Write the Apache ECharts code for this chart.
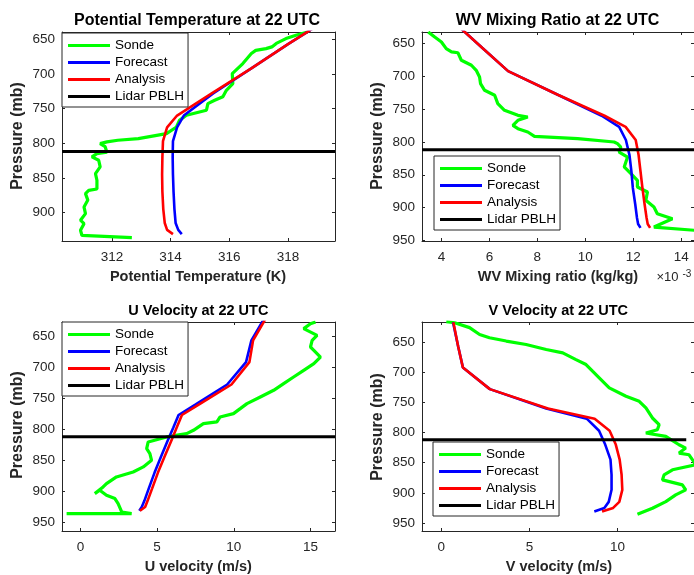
<!DOCTYPE html>
<html>
<head>
<meta charset="utf-8">
<script src="https://cdn.jsdelivr.net/npm/echarts@6/dist/echarts.min.js"></script>
<style>
  html, body { margin: 0; padding: 0; background: #fff; }
  #chart { width: 694px; height: 575px; }
</style>
</head>
<body>
<div id="chart"></div>
<script>
// Model pressure levels (mb) shared by forecast and analysis profiles
const modelP = [617, 657, 692, 728, 760, 777, 797, 820, 845, 870, 895, 915, 925, 931];
const pblhP = 812;

// Potential temperature (K)
const thetaForecast = [319.5, 318.0, 316.75, 315.45, 314.45, 314.22, 314.08, 314.07, 314.08, 314.1, 314.13, 314.17, 314.26, 314.38];
const thetaAnalysis = [319.5, 318.0, 316.75, 315.4, 314.22, 313.88, 313.74, 313.72, 313.71, 313.72, 313.75, 313.8, 313.88, 314.08];
const thetaSondeP = [936, 933, 925.5, 916, 911, 901.5, 892, 882, 872.6, 868, 866, 853.4, 843.8, 834, 824.5, 819.7, 815, 813, 805, 800.5, 798, 795.7, 793.4, 786, 776.5, 767, 759.6, 752.4, 742.8, 738, 733, 723.6, 714, 699.5, 685, 670.6, 666, 663.5, 661, 656, 649, 644.2, 639.4];
const thetaSonde = [312.68, 310.98, 310.93, 311.05, 310.93, 311.1, 311.05, 311.18, 311.1, 311.21, 311.49, 311.49, 311.44, 311.6, 311.55, 311.32, 311.49, 311.83, 311.77, 311.6, 311.83, 312.2, 312.9, 313.86, 314.2, 314.3, 314.54, 315.22, 315.27, 315.5, 315.78, 315.9, 316.12, 316.1, 316.46, 316.75, 316.9, 317.25, 317.45, 317.6, 317.93, 318.27, 318.67];

// Water vapour mixing ratio (units of 1e-3 kg/kg)
const wvForecast = [4.51, 5.72, 6.78, 8.85, 10.68, 11.41, 11.69, 11.84, 11.92, 11.98, 12.08, 12.15, 12.2, 12.3];
const wvAnalysis = [4.51, 5.72, 6.78, 8.85, 10.8, 11.68, 12.1, 12.22, 12.3, 12.38, 12.47, 12.55, 12.6, 12.7];
const wvSondeP = [632.2, 640, 647.5, 657.6, 662.7, 664, 675.4, 683, 690.7, 700.9, 711, 721.2, 728.8, 741.5, 751.7, 759.4, 762, 767, 774.6, 779.7, 784.8, 791.4, 795, 800, 802.6, 807.7, 815.3, 823, 838, 848.4, 858.5, 868.7, 876.3, 889, 899.2, 909.4, 917, 929.7, 934.8];
const wvSonde = [3.45, 3.72, 4.0, 4.2, 4.42, 4.69, 4.83, 5.25, 5.45, 5.59, 5.63, 5.8, 6.22, 6.35, 6.63, 7.19, 7.6, 7.19, 6.98, 7.19, 7.6, 7.88, 9.68, 11.2, 11.34, 11.48, 11.41, 11.76, 11.62, 11.9, 12.17, 12.17, 12.59, 12.52, 12.86, 13.0, 13.63, 12.86, 14.6];

// U velocity (m/s)
const uForecast = [12.1, 11.15, 10.8, 9.57, 7.52, 6.4, 6.06, 5.66, 5.24, 4.83, 4.46, 4.17, 4.0, 3.84];
const uAnalysis = [12.2, 11.26, 11.02, 9.85, 7.74, 6.62, 6.28, 5.9, 5.47, 5.05, 4.68, 4.38, 4.22, 3.88];
const uSondeP = [935.5, 935.5, 933, 930.2, 919.5, 911.4, 906, 898, 903.4, 892.7, 887.3, 876.6, 868.6, 860.5, 849.8, 839.1, 831, 820.3, 812.3, 807, 801.6, 790.9, 788.2, 780.2, 774.8, 766.8, 758.7, 748, 737.3, 726.6, 715.9, 705.2, 694.5, 683.8, 673, 667.7, 657, 649, 638.2, 630.2, 627.5];
const uSonde = [-0.9, 3.34, 2.7, 2.57, 2.46, 2.25, 1.7, 1.26, 0.94, 1.48, 1.7, 2.35, 3.44, 4.1, 4.64, 4.53, 4.32, 4.42, 5.62, 6.93, 7.37, 8.02, 8.9, 9.11, 9.98, 10.42, 10.86, 11.73, 12.6, 13.25, 13.9, 14.56, 15.22, 15.65, 15.22, 15.0, 15.11, 15.43, 14.56, 15.0, 15.33];

// V velocity (m/s)
const vForecast = [0.66, 0.95, 1.22, 2.75, 5.95, 8.25, 8.95, 9.3, 9.6, 9.66, 9.66, 9.5, 9.25, 8.68];
const vAnalysis = [0.68, 0.95, 1.22, 2.75, 6.05, 8.7, 9.55, 9.9, 10.12, 10.23, 10.27, 10.1, 9.75, 9.12];
const vSondeP = [616.2, 618, 626, 637.4, 642.8, 648.3, 654, 662.3, 667.8, 679, 687.2, 698.3, 709.4, 726, 739.8, 748.2, 759.3, 775.9, 787, 795.3, 800.8, 806.4, 820.3, 825.8, 834.1, 836.9, 853.5, 861.8, 870.2, 878.5, 886.8, 895.1, 903.4, 914.5, 925.6, 935.6];
const vSonde = [0.28, 0.75, 1.6, 2.17, 2.73, 3.68, 4.81, 5.95, 6.89, 7.64, 8.21, 8.58, 8.96, 9.53, 10.48, 11.23, 11.61, 11.98, 12.36, 12.26, 11.61, 12.74, 13.49, 13.87, 13.49, 14.06, 14.45, 13.12, 12.64, 12.55, 13.68, 13.87, 13.3, 12.74, 11.98, 11.13];

const legendNames = ['Sonde', 'Forecast', 'Analysis', 'Lidar PBLH'];
const FONT = '"Liberation Sans", Arial, Helvetica, sans-serif';
const AXIS_COLOR = '#262626';

const panels = [
  { title: 'Potential Temperature at 22 UTC', xName: 'Potential Temperature (K)',
    grid: { left: 62, top: 32, width: 273, height: 209 },
    xMin: 310.3, xMax: 319.6, xTicks: [312, 314, 316, 318],
    yMin: 639.5, yMax: 941, yTicks: [650, 700, 750, 800, 850, 900],
    forecast: thetaForecast, analysis: thetaAnalysis, sonde: thetaSonde, sondeP: thetaSondeP,
    pblhX: [310.3, 319.6], legend: { left: 62, top: 33 },
    titleXY: [197, 20.5], titleSize: 16, xNameXY: [198, 276.5], yNameXY: [18, 136] },
  { title: 'WV Mixing Ratio at 22 UTC', xName: 'WV Mixing ratio (kg/kg)',
    grid: { left: 422, top: 32, width: 273, height: 209 },
    xMin: 3.19, xMax: 14.53, xTicks: [4, 6, 8, 10, 12, 14],
    yMin: 632.3, yMax: 951, yTicks: [650, 700, 750, 800, 850, 900, 950],
    forecast: wvForecast, analysis: wvAnalysis, sonde: wvSonde, sondeP: wvSondeP,
    pblhX: [3.19, 14.53], legend: { left: 434, top: 156 },
    titleXY: [557.5, 20.5], titleSize: 16, xNameXY: [558, 276.5], yNameXY: [378, 136] },
  { title: 'U Velocity at 22 UTC', xName: 'U velocity (m/s)',
    grid: { left: 62, top: 322, width: 273, height: 209 },
    xMin: -1.2, xMax: 16.6, xTicks: [0, 5, 10, 15],
    yMin: 627.5, yMax: 963.5, yTicks: [650, 700, 750, 800, 850, 900, 950],
    forecast: uForecast, analysis: uAnalysis, sonde: uSonde, sondeP: uSondeP,
    pblhX: [-1.2, 16.6], legend: { left: 62, top: 322 },
    titleXY: [198.3, 310.7], titleSize: 14.5, xNameXY: [198.3, 566.5], yNameXY: [18, 425] },
  { title: 'V Velocity at 22 UTC', xName: 'V velocity (m/s)',
    grid: { left: 422, top: 322, width: 273, height: 209 },
    xMin: -1.1, xMax: 14.34, xTicks: [0, 5, 10],
    yMin: 616.7, yMax: 963.3, yTicks: [650, 700, 750, 800, 850, 900, 950],
    forecast: vForecast, analysis: vAnalysis, sonde: vSonde, sondeP: vSondeP,
    pblhX: [-1.1, 13.9], legend: { left: 433, top: 442 },
    titleXY: [558.3, 310.7], titleSize: 14.5, xNameXY: [559, 566.5], yNameXY: [378, 427] }
];

const pairs = (xs, ps) => xs.map((x, i) => [x, ps[i]]);

const grid = [], xAxis = [], yAxis = [], series = [], legend = [], graphic = [];

panels.forEach((pn, i) => {
  grid.push(Object.assign({ containLabel: false }, pn.grid));

  const baseX = {
    type: 'value', gridIndex: i, min: pn.xMin, max: pn.xMax,
    axisLine: { show: true, onZero: false, lineStyle: { color: AXIS_COLOR, width: 1 } },
    axisTick: { show: true, inside: true, length: 3, customValues: pn.xTicks, lineStyle: { color: AXIS_COLOR } },
    splitLine: { show: false }
  };
  xAxis.push(Object.assign({}, baseX, {
    position: 'bottom',
    axisLabel: { show: true, customValues: pn.xTicks, margin: 9, fontSize: 13.5, fontFamily: FONT, color: AXIS_COLOR }
  }));
  xAxis.push(Object.assign({}, baseX, { position: 'top', axisLabel: { show: false } }));

  const baseY = {
    type: 'value', gridIndex: i, min: pn.yMin, max: pn.yMax, inverse: true,
    axisLine: { show: true, onZero: false, lineStyle: { color: AXIS_COLOR, width: 1 } },
    axisTick: { show: true, inside: true, length: 3, customValues: pn.yTicks, lineStyle: { color: AXIS_COLOR } },
    splitLine: { show: false }
  };
  yAxis.push(Object.assign({}, baseY, {
    position: 'left',
    axisLabel: { show: true, customValues: pn.yTicks, margin: 7, fontSize: 13.5, fontFamily: FONT, color: AXIS_COLOR }
  }));
  yAxis.push(Object.assign({}, baseY, { position: 'right', axisLabel: { show: false } }));

  const common = { type: 'line', xAxisIndex: 2 * i, yAxisIndex: 2 * i, showSymbol: false, symbol: 'none', silent: true, clip: true };
  series.push(Object.assign({}, common, { name: 'Sonde', color: '#00ff00', lineStyle: { color: '#00ff00', width: 3.2 }, data: pairs(pn.sonde, pn.sondeP) }));
  series.push(Object.assign({}, common, { name: 'Forecast', color: '#0000ff', lineStyle: { color: '#0000ff', width: 2.6 }, data: pairs(pn.forecast, modelP) }));
  series.push(Object.assign({}, common, { name: 'Analysis', color: '#ff0000', lineStyle: { color: '#ff0000', width: 2.6 }, data: pairs(pn.analysis, modelP) }));
  series.push(Object.assign({}, common, { name: 'Lidar PBLH', color: '#000000', lineStyle: { color: '#000000', width: 3 }, data: pn.pblhX.map(x => [x, pblhP]) }));

  legend.push({
    data: legendNames, orient: 'vertical', left: pn.legend.left, top: pn.legend.top,
    icon: 'rect', itemWidth: 42, itemHeight: 3, itemGap: 0,
    padding: [4, 4, 2, 6], borderColor: AXIS_COLOR, borderWidth: 1, backgroundColor: '#ffffff',
    selectedMode: false,
    textStyle: { fontSize: 13.5, lineHeight: 17, fontFamily: FONT, color: '#000000' }
  });

  graphic.push({ type: 'text', x: pn.titleXY[0], y: pn.titleXY[1], silent: true,
    style: { text: pn.title, fill: '#000', font: `bold ${pn.titleSize}px ${FONT}`, textAlign: 'center', textVerticalAlign: 'middle' } });
  graphic.push({ type: 'text', x: pn.xNameXY[0], y: pn.xNameXY[1], silent: true,
    style: { text: pn.xName, fill: AXIS_COLOR, font: `bold 14.5px ${FONT}`, textAlign: 'center', textVerticalAlign: 'middle' } });
  graphic.push({ type: 'text', x: pn.yNameXY[0], y: pn.yNameXY[1], rotation: Math.PI / 2, silent: true,
    style: { text: 'Pressure (mb)', fill: AXIS_COLOR, font: `bold 16px ${FONT}`, textAlign: 'center', textVerticalAlign: 'middle' } });
});

// Exponent note for the mixing-ratio axis
graphic.push({ type: 'text', x: 656.5, y: 284, silent: true,
  style: { text: '×10', fill: AXIS_COLOR, font: `13px ${FONT}`, textAlign: 'left', textVerticalAlign: 'bottom' } });
graphic.push({ type: 'text', x: 682.5, y: 279, silent: true,
  style: { text: '-3', fill: AXIS_COLOR, font: `10px ${FONT}`, textAlign: 'left', textVerticalAlign: 'bottom' } });

const chart = echarts.init(document.getElementById('chart'), null, { renderer: 'canvas' });
chart.setOption({
  animation: false,
  backgroundColor: '#ffffff',
  grid, xAxis, yAxis, series, legend, graphic
});
</script>
</body>
</html>
